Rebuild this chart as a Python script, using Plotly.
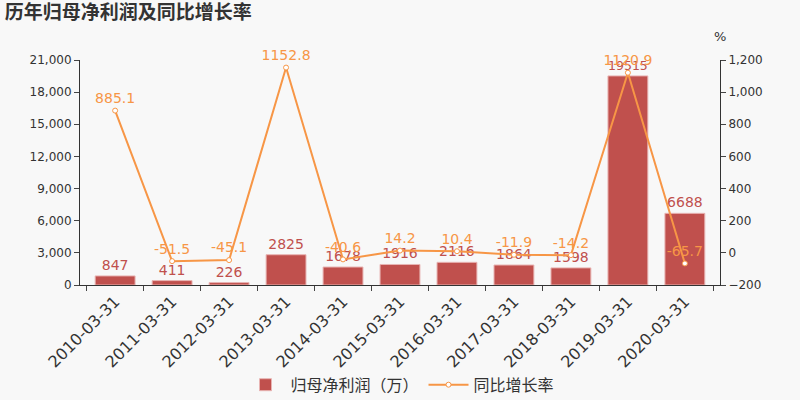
import plotly.graph_objects as go

dates = ['2010-03-31', '2011-03-31', '2012-03-31', '2013-03-31', '2014-03-31', '2015-03-31',
         '2016-03-31', '2017-03-31', '2018-03-31', '2019-03-31', '2020-03-31']
profit = [847, 411, 226, 2825, 1678, 1916, 2116, 1864, 1598, 19515, 6688]
growth = [885.1, -51.5, -45.1, 1152.8, -40.6, 14.2, 10.4, -11.9, -14.2, 1120.9, -65.7]

bar_color = '#c0504d'
line_color = '#f79646'
font_family = 'DejaVu Sans, Noto Sans CJK SC'

fig = go.Figure()
fig.add_trace(
    go.Bar(
        x=dates,
        y=profit,
        name='归母净利润（万）',
        marker=dict(color=bar_color, line=dict(color='#e8b4b3', width=1)),
        width=0.7,
        text=[str(v) for v in profit],
        textposition='outside',
        textfont=dict(color=bar_color, size=14),
        cliponaxis=False
    )
)
fig.add_trace(
    go.Scatter(
        x=dates,
        y=growth,
        name='同比增长率',
        yaxis='y2',
        mode='lines+markers+text',
        line=dict(color=line_color, width=2),
        marker=dict(size=5, color='white', line=dict(color=line_color, width=1)),
        text=[str(v) for v in growth],
        textposition='top center',
        textfont=dict(color=line_color, size=14),
        cliponaxis=False
    )
)

fig.update_layout(
    width=800,
    height=400,
    paper_bgcolor='#f8f8f8',
    plot_bgcolor='#f8f8f8',
    font=dict(family=font_family, color='#333333', size=12),
    margin=dict(l=80, r=80, t=60, b=115),
    title=dict(text='<b>历年归母净利润及同比增长率</b>', x=0.006, y=0.985, xanchor='left', yanchor='top',
               font=dict(size=19, color='#333333')),
    xaxis=dict(
        type='category',
        tickangle=-45,
        tickson='boundaries',
        ticks='outside',
        ticklen=5,
        showline=True,
        linecolor='#333333',
        showgrid=False,
        automargin=False,
        tickfont=dict(size=16)
    ),
    yaxis=dict(
        range=[0, 21000],
        tickvals=[0, 3000, 6000, 9000, 12000, 15000, 18000, 21000],
        tickformat=',d',
        ticks='outside',
        ticklen=5,
        showline=True,
        linecolor='#333333',
        showgrid=False,
        zeroline=False,
        automargin=False
    ),
    yaxis2=dict(
        range=[-200, 1200],
        tickvals=[-200, 0, 200, 400, 600, 800, 1000, 1200],
        tickformat=',d',
        overlaying='y',
        side='right',
        ticks='outside',
        ticklen=5,
        showline=True,
        linecolor='#333333',
        showgrid=False,
        zeroline=False,
        automargin=False
    ),
    legend=dict(orientation='h', x=0.5, xanchor='center', yref='container', y=0.038, yanchor='middle',
                font=dict(size=16), bgcolor='rgba(0,0,0,0)', itemwidth=40),
    bargap=0.3,
    showlegend=True
)
fig.add_annotation(text='%', xref='paper', yref='paper', x=1.0, y=1.06, showarrow=False,
                   xanchor='center', yanchor='bottom', font=dict(size=13, color='#333333'))

# drop the page's default body margin so the chart sits at the window corner
fig.write_html('out.html', config={'displayModeBar': False},
               post_script="document.body.style.margin='0';document.body.style.background='#f8f8f8';")
